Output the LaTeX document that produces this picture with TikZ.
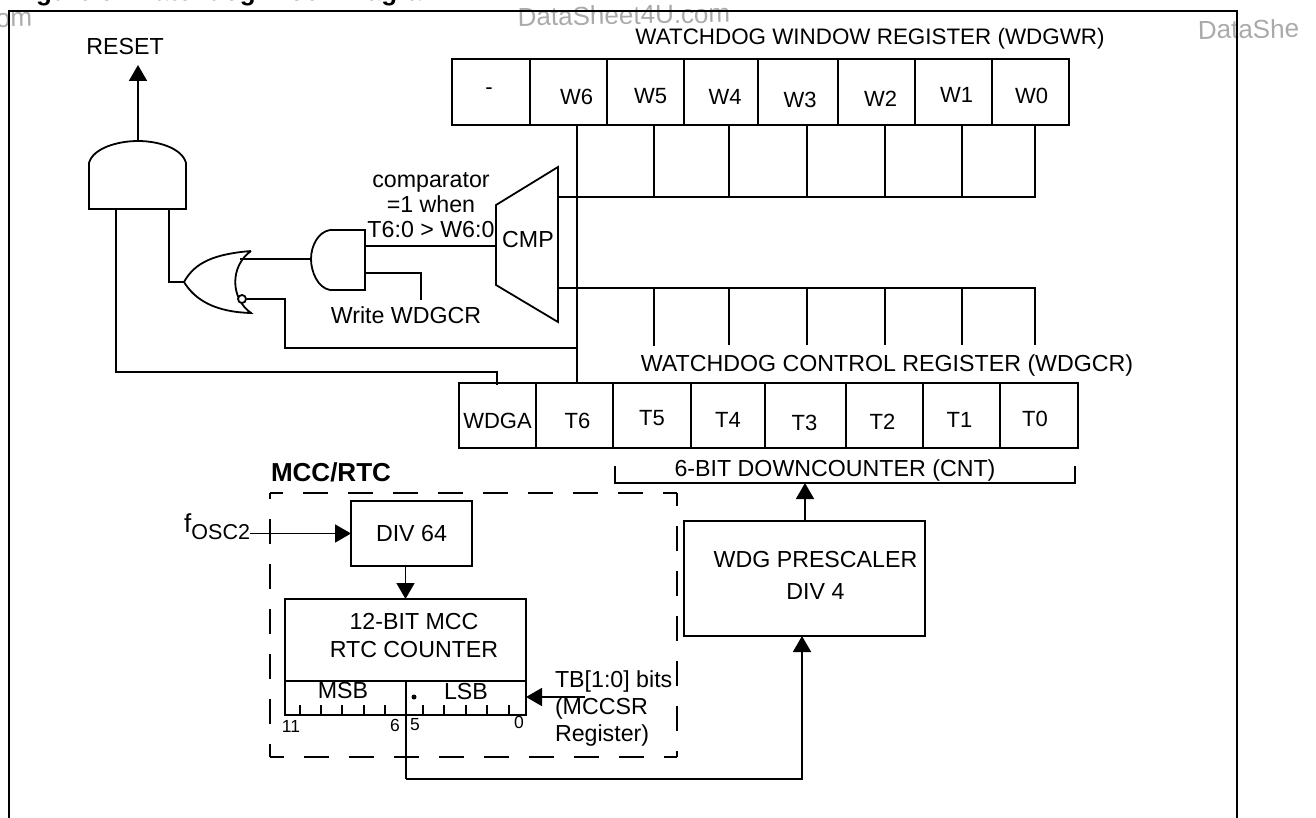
\documentclass[tikz,border=0pt]{standalone}
\usepackage{fontspec}
\setmainfont{Liberation Sans}
\usepackage{xcolor}
\usetikzlibrary{arrows.meta, positioning}
\definecolor{MarkGray}{RGB}{170,170,170}

\begin{document}
\begin{tikzpicture}[
  x=1pt, y=-1pt,
  line width=1.8pt,
  font=\fontsize{23.2}{28}\selectfont,
  cellbox/.style={rectangle, draw, inner sep=0pt, outer sep=0pt, minimum height=66pt},
  block/.style={rectangle, draw, inner sep=0pt, outer sep=0pt, align=center},
  celltext/.style={font=\fontsize{22}{25}\selectfont, inner sep=0pt},
  smalltext/.style={font=\fontsize{17.5}{18}\selectfont, inner sep=0pt},
  plain/.style={inner sep=0pt, outer sep=0pt, align=center},
  watermark/.style={inner sep=0pt, text=MarkGray, font=\fontsize{26}{30}\selectfont, rotate=1},
  arrow/.style={-{Triangle[length=16pt, width=18pt]}},
  groupbox/.style={dash pattern=on 25pt off 20pt, dash phase=12pt}
]
\useasboundingbox (0,0) rectangle (1316,818);

% Cut-off title, watermarks and frame
\node[plain, anchor=base west, font=\bfseries\fontsize{26}{30}\selectfont] (title) at (13,1) {Figure 5. Watchdog Block Diagram};
\node[watermark] (mark1) at (14,20) {om};
\node[watermark] (mark2) at (624,15) {DataSheet4U.com};
\node[watermark, anchor=west] (mark3) at (1197,30) {DataShe};
\draw (9,818) |- (1237,11) -- (1237,818);

% Window register row
\node[plain, font=\fontsize{22.4}{25}\selectfont] (wdgwr) at (870,39) {WATCHDOG WINDOW REGISTER (WDGWR)};
\node[cellbox, minimum width=78pt, anchor=north west,
      label={[celltext, xshift=-2pt, yshift=1pt]center:-}] (wx) at (452,59) {};
\node[cellbox, minimum width=77pt, right=0pt of wx, label={[celltext, xshift=8pt, yshift=-5pt]center:W6}] (w6) {};
\node[cellbox, minimum width=77pt, right=0pt of w6, label={[celltext, xshift=5pt, yshift=-4pt]center:W5}] (w5) {};
\node[cellbox, minimum width=74pt, right=0pt of w5, label={[celltext, xshift=4pt, yshift=-5pt]center:W4}] (w4) {};
\node[cellbox, minimum width=80pt, right=0pt of w4, label={[celltext, xshift=2pt, yshift=-8pt]center:W3}] (w3) {};
\node[cellbox, minimum width=77pt, right=0pt of w3, label={[celltext, xshift=4pt, yshift=-7pt]center:W2}] (w2) {};
\node[cellbox, minimum width=77pt, right=0pt of w2, label={[celltext, xshift=3pt, yshift=-3pt]center:W1}] (w1) {};
\node[cellbox, minimum width=77pt, right=0pt of w1, label={[celltext, xshift=1pt, yshift=-4pt]center:W0}] (w0) {};

% Control register row
\node[plain] (wdgcr) at (887,365) {WATCHDOG CONTROL REGISTER (WDGCR)};
\node[cellbox, minimum width=77pt, minimum height=65pt, anchor=north west,
      label={[celltext, xshift=0pt, yshift=-5pt]center:WDGA}] (wdga) at (459,383) {};
\node[cellbox, minimum width=77pt, minimum height=65pt, right=0pt of wdga, label={[celltext, xshift=3pt, yshift=-5pt]center:T6}] (t6) {};
\node[cellbox, minimum width=78pt, minimum height=65pt, right=0pt of t6, label={[celltext, yshift=-3pt]center:T5}] (t5) {};
\node[cellbox, minimum width=74pt, minimum height=65pt, right=0pt of t5, label={[celltext, yshift=-4pt]center:T4}] (t4) {};
\node[cellbox, minimum width=81pt, minimum height=65pt, right=0pt of t4, label={[celltext, xshift=-1pt, yshift=-7pt]center:T3}] (t3) {};
\node[cellbox, minimum width=77pt, minimum height=65pt, right=0pt of t3, label={[celltext, xshift=-2pt, yshift=-6pt]center:T2}] (t2) {};
\node[cellbox, minimum width=77pt, minimum height=65pt, right=0pt of t2, label={[celltext, xshift=-2pt, yshift=-4pt]center:T1}] (t1) {};
\node[cellbox, minimum width=78pt, minimum height=65pt, right=0pt of t1, label={[celltext, xshift=-4pt, yshift=-3pt]center:T0}] (t0) {};

% Comparator
\node[plain] (cmp) at (528,240) {CMP};
\draw (496,205) -- (558,167) -- (558,322) -- (496,285) -- cycle;
\coordinate (cmpin) at (496,246);
\coordinate (cmpup) at (558,197);
\coordinate (cmpdown) at (558,288);
\node[plain] (cmpnote) at (431,205) {comparator\\[-3pt]=1 when\\[-3pt]T6:0 > W6:0};

% Gates
\node[plain] (reset) at (125,47) {RESET};
\draw (89,209) -- (89,163) .. controls (93,148) and (118,141) .. (138,141)
      .. controls (158,141) and (182,148) .. (186,163) -- (186,209) -- cycle;
\coordinate (andout) at (138,141);
\coordinate (andtip) at (138,65);
\coordinate (andleft) at (116,209);
\coordinate (andright) at (169,209);
\draw (365,230) -- (330,230) .. controls (318,232) and (311,246) .. (311,259)
      .. controls (311,272) and (318,288) .. (330,290) -- (365,290) -- cycle;
\coordinate (gatea) at (365,246);
\coordinate (gateb) at (365,273);
\coordinate (gatein) at (311,259);
\draw (251,251) .. controls (215,254) and (195,262) .. (184,282)
      .. controls (195,300) and (215,312) .. (251,313)
      .. controls (230,298) and (230,266) .. (251,251);
\node[circle, draw, fill=white, inner sep=0pt, minimum size=8pt] (bubble) at (242,299) {};
\coordinate (norin) at (240,259);
\coordinate (norout) at (184,282);
\coordinate (norturn) at (285,299);
\coordinate (wrend) at (421,300);
\node[plain] (wrlabel) at (406,315) {Write WDGCR};
\coordinate (c5) at (654,346);
\coordinate (c4) at (729,345);
\coordinate (c3) at (807,345);
\coordinate (c2) at (885,345);
\coordinate (c1) at (962,345);
\coordinate (c0) at (1035,345);
\coordinate (tjoin) at (577,348);
\coordinate (wdgaturn) at (497,372);

% MCC/RTC group
\node[plain, font=\bfseries\fontsize{26}{30}\selectfont] (mcc) at (331,472) {MCC/RTC};
\draw[groupbox] (270,493) -- (677,493) (677,493) -- (677,757) (677,757) -- (270,757) (270,757) -- (270,493);
\node[block, minimum width=121pt, minimum height=65pt, anchor=north west] (div64) at (351,501) {DIV 64};
\node[block, minimum width=241pt, minimum height=116pt, anchor=north west] (counter) at (285,599) {};
\node[plain] (cntlabel) at (414,636) {12-BIT MCC\\[0pt]RTC COUNTER};
\draw (counter.west |- 0,681) -- (counter.east |- 0,681);
\node[plain] (msb) at (343,691) {MSB};
\node[plain] (lsb) at (466,692) {LSB};
\node[circle, fill, inner sep=0pt, minimum size=5pt] (dot) at (414,697) {};
\draw[line width=1.4pt] (300,715) -- (300,705) (321,715) -- (321,705) (342,715) -- (342,705)
      (364,715) -- (364,705) (385,715) -- (385,705) (423,715) -- (423,705) (444,715) -- (444,705)
      (466,715) -- (466,705) (487,715) -- (487,705) (509,715) -- (509,705);
\node[smalltext] (n11) at (291,726) {11};
\node[smalltext] (n6) at (395,725) {6};
\node[smalltext] (n5) at (415,725) {5};
\node[smalltext] (n0) at (519,722) {0};
\node[plain, anchor=west, align=left] (tbnote) at (555,708) {TB[1:0] bits\\[-1pt](MCCSR\\[-1pt]Register)};
\coordinate (tbstart) at (585,697);
\node[plain, anchor=east] (fosc) at (250,527) {\fontsize{26}{28}\selectfont f\raisebox{-7pt}{\fontsize{21.5}{25}\selectfont OSC2}};

% Prescaler and downcounter
\node[block, minimum width=241pt, minimum height=115pt, anchor=north west,
      label={[plain, xshift=11pt, yshift=3pt]center:WDG PRESCALER\\[4pt]DIV 4}] (presc) at (684,521) {};
\node[plain] (cntname) at (835,470) {6-BIT DOWNCOUNTER (CNT)};
\draw (615,466) |- (1075,483) -- (1075,466);
\coordinate (bracket) at (805,483);
\coordinate (latch) at (406,779);

% Arrows
\draw[arrow] (andout) -- (andtip);
\draw (norout) -| (andright);
\draw (gatein) -- (norin);
\draw (bubble) -- (norturn) |- (tjoin);
\draw (w6.south -| tjoin) -- (t6.north -| tjoin);
\draw (andleft) |- (wdgaturn) -- ([yshift=-2pt]wdgaturn |- wdga.north);
\draw (gatea) -- (cmpin);
\draw (gateb) -| (wrend);
\draw (w0.south -| c0) |- (cmpup);
\draw (w1.south -| c1) |- (cmpup);
\draw (w2.south -| c2) |- (cmpup);
\draw (w3.south -| c3) |- (cmpup);
\draw (w4.south -| c4) |- (cmpup);
\draw (w5.south -| c5) |- (cmpup);
\draw (cmpdown) -| (c0);
\draw (cmpdown) -| (c1);
\draw (cmpdown) -| (c2);
\draw (cmpdown) -| (c3);
\draw (cmpdown) -| (c4);
\draw (cmpdown) -| (c5);
\draw (cmpdown) -- (cmpdown -| tjoin);
\draw[arrow] (fosc.east |- div64.west) -- (div64.west);
\draw[arrow] (div64.south -| counter.north) -- (counter.north);
\draw[arrow] (tbstart) -- (tbstart -| counter.east);
\draw[arrow] (presc.north -| bracket) -- (bracket);
\draw (406,681) -- (latch);
\draw[arrow] (latch) -| (802,636);
\end{tikzpicture}
\end{document}
